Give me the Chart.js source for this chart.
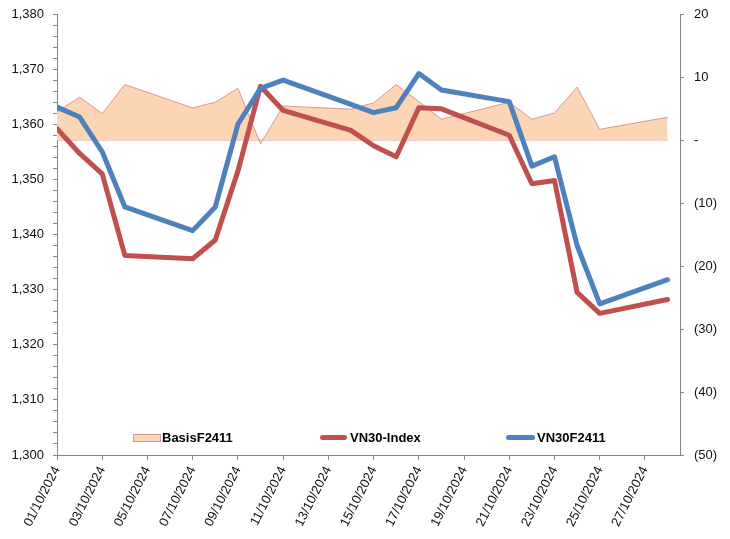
<!DOCTYPE html>
<html>
<head>
<meta charset="utf-8">
<script src="https://cdn.jsdelivr.net/npm/chart.js@4.4.1/dist/chart.umd.min.js"></script>
<style>
  body { margin: 0; background: #fff; }
  #wrap { position: relative; width: 730px; height: 539px; }
  .legend { position: absolute; top: 430px; height: 16px; font: bold 13px "Liberation Sans", Arial, sans-serif; color: #000; }
  .legend span { position: absolute; white-space: nowrap; }
  .sw-area { top: 4px; width: 26px; height: 6px; background: #FCD5B5; border: 1px solid #D99795; }
  .sw-line { top: 5px; height: 5px; border-radius: 3px; }
  .txt { top: 0; line-height: 16px; }
</style>
</head>
<body>
<div id="wrap">
  <canvas id="grafico" width="730" height="539"></canvas>
  <div class="legend" style="left:133px"><span class="sw-area" style="left:0"></span><span class="txt" style="left:29px">BasisF2411</span></div>
  <div class="legend" style="left:320px"><span class="sw-line" style="left:0;width:27px;background:#C0504D"></span><span class="txt" style="left:30px">VN30-Index</span></div>
  <div class="legend" style="left:506px"><span class="sw-line" style="left:0;width:29px;background:#4F81BD"></span><span class="txt" style="left:31px">VN30F2411</span></div>
</div>
<script>
// Ngày giao dịch tháng 10/2024
const ngayGiaoDich = ['01/10/2024', '02/10/2024', '03/10/2024', '04/10/2024', '07/10/2024',
  '08/10/2024', '09/10/2024', '10/10/2024', '11/10/2024', '14/10/2024', '15/10/2024',
  '16/10/2024', '17/10/2024', '18/10/2024', '21/10/2024', '22/10/2024', '23/10/2024',
  '24/10/2024', '25/10/2024', '28/10/2024'];

const vn30F2411 = [1363.1, 1361.3, 1355.0, 1345.0, 1340.7, 1345.0, 1360.0, 1366.5, 1368.0, 1363.6,
  1362.1, 1363.0, 1369.2, 1366.2, 1364.1, 1352.4, 1354.1, 1338.0, 1327.4, 1331.8];

const vn30Index = [1359.2, 1354.7, 1351.0, 1336.2, 1335.6, 1339.0, 1351.5, 1366.9, 1362.5, 1358.9,
  1356.1, 1354.1, 1363.0, 1362.8, 1358.0, 1349.2, 1349.8, 1329.5, 1325.7, 1328.2];

const basisF2411 = [4.5, 6.8, 4.2, 8.8, 5.1, 6.0, 8.2, -0.6, 5.4, 4.9,
  5.9, 8.8, 6.1, 3.3, 6.0, 3.3, 4.3, 8.4, 1.7, 3.6];

const nhanTrucX = ['01/10/2024', '03/10/2024', '05/10/2024', '07/10/2024', '09/10/2024',
  '11/10/2024', '13/10/2024', '15/10/2024', '17/10/2024', '19/10/2024', '21/10/2024',
  '23/10/2024', '25/10/2024', '27/10/2024'];

const ngay = (s) => parseInt(s.slice(0, 2), 10);
const diem = (arr) => arr.map((v, i) => ({ x: ngay(ngayGiaoDich[i]), y: v }));

const font = { family: '"Liberation Sans", Arial, sans-serif', size: 13 };
const xam = '#868686';

// co dinh be rong truc doc, bo phan dem tren/duoi cua nhan
const coDinhTruc = (w) => (s) => { s.width = w; s.paddingTop = 0; s.paddingBottom = 0; };

new Chart(document.getElementById('grafico'), {
  type: 'line',
  data: {
    datasets: [
      {
        label: 'VN30F2411',
        data: diem(vn30F2411),
        yAxisID: 'y',
        borderColor: '#4F81BD',
        borderWidth: 5,
        borderJoinStyle: 'round',
        borderCapStyle: 'round',
        pointRadius: 0,
        order: 0
      },
      {
        label: 'VN30-Index',
        data: diem(vn30Index),
        yAxisID: 'y',
        borderColor: '#C0504D',
        borderWidth: 5,
        borderJoinStyle: 'round',
        borderCapStyle: 'round',
        pointRadius: 0,
        order: 1
      },
      {
        label: 'BasisF2411',
        data: diem(basisF2411),
        yAxisID: 'y1',
        borderColor: '#D99795',
        backgroundColor: '#FCD5B5',
        borderWidth: 1,
        pointRadius: 0,
        fill: 'origin',
        order: 2
      },
      {
        label: 'base',
        data: diem(basisF2411.map(() => 0)),
        yAxisID: 'y1',
        borderColor: '#D99795',
        borderWidth: 1,
        pointRadius: 0,
        order: 3
      }
    ]
  },
  options: {
    responsive: false,
    animation: false,
    layout: { padding: { top: 14, left: 0, right: 0, bottom: 0 } },
    plugins: { legend: { display: false }, tooltip: { enabled: false } },
    scales: {
      x: {
        type: 'linear',
        min: 1,
        max: 28.55,
        afterFit: (s) => { s.height = 84; },
        afterBuildTicks: (s) => { s.ticks = nhanTrucX.map((l) => ({ value: ngay(l) })); },
        border: { color: xam },
        grid: { drawOnChartArea: false, tickLength: 5, tickColor: xam },
        ticks: {
          autoSkip: false,
          minRotation: 63,
          maxRotation: 63,
          padding: 4,
          color: '#111',
          font: font,
          callback: (v) => nhanTrucX.find((l) => ngay(l) === v) || ''
        }
      },
      y: {
        position: 'left',
        min: 1300,
        max: 1380,
        afterFit: coDinhTruc(57),
        border: { color: xam },
        grid: { drawOnChartArea: false, tickLength: 4, tickColor: xam },
        ticks: {
          stepSize: 2,
          autoSkip: false,
          padding: 9,
          color: '#111',
          font: font,
          callback: (v) => (v % 10 === 0 ? v.toLocaleString('en-US') : '')
        }
      },
      y1: {
        position: 'right',
        min: -50,
        max: 20,
        afterFit: coDinhTruc(50),
        border: { color: xam },
        grid: { drawOnChartArea: false, tickLength: 4, tickColor: xam },
        ticks: {
          stepSize: 10,
          padding: 10,
          color: '#111',
          font: font,
          callback: (v) => (v === 0 ? '-' : v < 0 ? '(' + (-v) + ')' : String(v))
        }
      }
    }
  }
});
</script>
</body>
</html>
